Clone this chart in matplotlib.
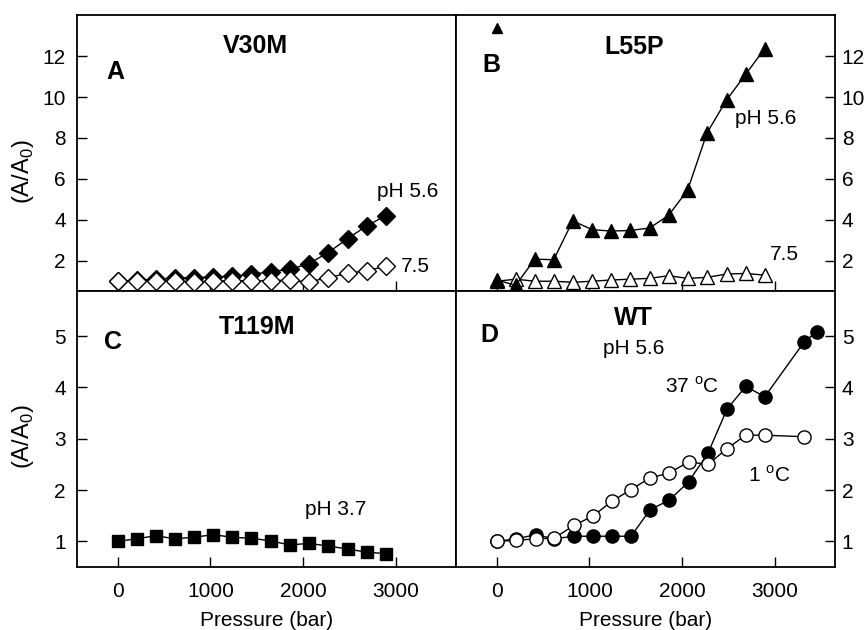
import matplotlib
matplotlib.use("Agg")
import matplotlib.pyplot as plt
import numpy as np

plt.rcParams['font.family'] = ['Liberation Sans', 'DejaVu Sans']
plt.rcParams['mathtext.fontset'] = 'custom'
plt.rcParams['mathtext.rm'] = 'Liberation Sans'

# Pressure grid (bar)
p15 = [0, 205, 410, 615, 820, 1030, 1235, 1440, 1650, 1855, 2060, 2270, 2480, 2685, 2890]

# A: V30M
v30m_ph56 = [1.0, 1.05, 1.1, 1.15, 1.18, 1.2, 1.25, 1.33, 1.47, 1.58, 1.85, 2.4, 3.08, 3.7, 4.2]
v30m_ph75 = [1.0, 1.02, 1.0, 1.02, 0.98, 1.0, 1.03, 1.02, 1.02, 1.06, 0.96, 1.18, 1.38, 1.52, 1.72]

# B: L55P
l55p_ph56 = [1.06, 0.8, 2.08, 2.05, 3.95, 3.52, 3.45, 3.48, 3.6, 4.22, 5.45, 8.25, 9.85, 11.1, 12.35]
l55p_ph75 = [1.0, 1.1, 1.0, 1.0, 0.95, 1.0, 1.06, 1.1, 1.14, 1.27, 1.14, 1.19, 1.35, 1.38, 1.3]
l55p_extra_p = [0]
l55p_extra_v = [13.37]

# C: T119M
t119m_ph37 = [1.0, 1.05, 1.11, 1.05, 1.08, 1.13, 1.08, 1.06, 1.01, 0.93, 0.96, 0.91, 0.85, 0.79, 0.76]

# D: WT
p_wt_cold = [0, 213, 422, 620, 830, 1036, 1241, 1450, 1656, 1861, 2070, 2280, 2486, 2687, 2893, 3315]
wt_1c = [1.0, 1.02, 1.05, 1.06, 1.31, 1.49, 1.78, 2.01, 2.24, 2.33, 2.55, 2.5, 2.81, 3.07, 3.07, 3.04]
p_wt_warm = [0, 213, 422, 620, 830, 1036, 1241, 1450, 1656, 1861, 2070, 2280, 2486, 2687, 2893, 3315, 3452]
wt_37c = [1.0, 1.05, 1.13, 1.05, 1.1, 1.1, 1.1, 1.1, 1.62, 1.8, 2.16, 2.72, 3.58, 4.02, 3.82, 4.88, 5.09]

xticks = [0, 1000, 2000, 3000]

fig = plt.figure(figsize=(8.68, 6.3), dpi=100)
L, W, H = 0.0887, 0.4366, 0.438
axA = fig.add_axes([L, 0.538, W, H])
axB = fig.add_axes([L + W, 0.538, W, H])
axC = fig.add_axes([L, 0.100, W, H])
axD = fig.add_axes([L + W, 0.100, W, H])

for ax in (axA, axB, axC, axD):
    ax.set_xlim(-440, 3650)
    ax.set_xticks(xticks)
    ax.tick_params(direction='in', length=7, width=1, labelsize=15, pad=8)
    ax.tick_params(axis='x', pad=11)
    for s in ax.spines.values():
        s.set_linewidth(1.3)

for ax in (axA, axB):
    ax.set_ylim(0.52, 14)
    ax.set_yticks([2, 4, 6, 8, 10, 12])
    ax.tick_params(axis='x', labelbottom=False)
for ax in (axC, axD):
    ax.set_ylim(0.5, 5.88)
    ax.set_yticks([1, 2, 3, 4, 5])
    ax.set_xlabel('Pressure (bar)', fontsize=15, labelpad=7)
for ax in (axB, axD):
    ax.yaxis.tick_right()
    ax.tick_params(axis='y', pad=5)

lk = dict(color='black', lw=1, zorder=3, clip_on=False)
big = dict(ha='center', va='center', fontsize=18, fontweight='bold')
note = dict(ha='center', va='center', fontsize=15)

# A
axA.plot(p15, v30m_ph56, marker='D', ms=9, mfc='black', mec='black', **lk)
axA.plot(p15, v30m_ph75, marker='D', ms=9, mfc='white', mec='black', mew=1, **lk)
axA.text(0.472, 0.888, 'V30M', transform=axA.transAxes, **big)
axA.text(0.101, 0.794, 'A', transform=axA.transAxes, **big)
axA.text(0.873, 0.36, 'pH 5.6', transform=axA.transAxes, **note)
axA.text(0.892, 0.09, '7.5', transform=axA.transAxes, **note)

# B
axB.plot(p15, l55p_ph75, marker='^', ms=10, mfc='white', mec='black', mew=1, **lk)
axB.plot(p15, l55p_ph56, marker='^', ms=10, mfc='black', mec='black', **lk)
axB.plot(l55p_extra_p, l55p_extra_v, ls='none', marker='^', ms=6.5, color='black')
axB.text(0.469, 0.886, 'L55P', transform=axB.transAxes, **big)
axB.text(0.094, 0.819, 'B', transform=axB.transAxes, **big)
axB.text(0.817, 0.625, 'pH 5.6', transform=axB.transAxes, **note)
axB.text(0.866, 0.134, '7.5', transform=axB.transAxes, **note)

# C
axC.plot(p15, t119m_ph37, marker='s', ms=8.5, mfc='black', mec='black', **lk)
axC.text(0.474, 0.871, 'T119M', transform=axC.transAxes, **big)
axC.text(0.096, 0.816, 'C', transform=axC.transAxes, **big)
axC.text(0.683, 0.209, 'pH 3.7', transform=axC.transAxes, **note)

# D
axD.plot(p_wt_warm, wt_37c, marker='o', ms=9.5, mfc='black', mec='black', **lk)
axD.plot(p_wt_cold, wt_1c, marker='o', ms=9.5, mfc='white', mec='black', mew=1, **lk)
axD.text(0.469, 0.901, 'WT', transform=axD.transAxes, **big)
axD.text(0.088, 0.841, 'D', transform=axD.transAxes, **big)
axD.text(0.469, 0.792, 'pH 5.6', transform=axD.transAxes, **note)
axD.text(0.623, 0.653, r'37 $^{\mathregular{o}}$C', transform=axD.transAxes, **note)
axD.text(0.826, 0.333, r'1 $^{\mathregular{o}}$C', transform=axD.transAxes, **note)

fig.text(0.027, 1 - 171.7 / 630, r'(A/A$_{\mathregular{0}}$)', rotation=90, ha='center', va='center', fontsize=17)
fig.text(0.027, 1 - 436.7 / 630, r'(A/A$_{\mathregular{0}}$)', rotation=90, ha='center', va='center', fontsize=17)

fig.savefig('out.png', dpi=100)
